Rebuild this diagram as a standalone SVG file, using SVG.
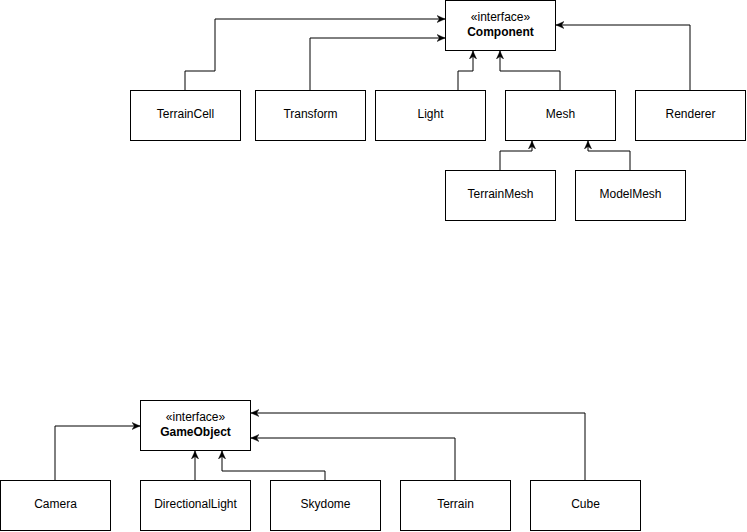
<svg xmlns="http://www.w3.org/2000/svg" width="747" height="532" viewBox="0 0 747 532">
<style>
.box{fill:#fff;stroke:#000;stroke-width:1}
.lbl{font-family:"Liberation Sans",Arial,sans-serif;font-size:12px;fill:#000;text-anchor:middle}
.b{font-weight:bold}
.edge{fill:none;stroke:#000;stroke-width:1;marker-end:url(#arr)}
</style>
<defs>
<marker id="arr" viewBox="0 0 10 10" refX="10" refY="5" markerWidth="8" markerHeight="8" markerUnits="userSpaceOnUse" orient="auto">
<path d="M0,0.5 L10,5 L0,9.5 L3,5 Z" fill="#000" stroke="#000" stroke-width="0.5"/>
</marker>
</defs>
<rect width="747" height="532" fill="#fff"/>
<g id="connectors">
<path class="edge" d="M185,90 V71 H215 V19 H445"/>
<path class="edge" d="M310,90 V38 H445"/>
<path class="edge" d="M458,90 V71 H473 V51"/>
<path class="edge" d="M560,90 V71 H500 V51"/>
<path class="edge" d="M690,90 V25 H556"/>
<path class="edge" d="M500,170 V151 H532 V141"/>
<path class="edge" d="M630,170 V151 H588 V141"/>
<path class="edge" d="M55,480 V426 H140"/>
<path class="edge" d="M195,480 V451"/>
<path class="edge" d="M325,480 V471 H222 V451"/>
<path class="edge" d="M455,480 V438 H251"/>
<path class="edge" d="M585,480 V413 H251"/>
</g>
<g id="Component">
<rect class="box" x="445.5" y="0.5" width="110" height="50"/>
<text class="lbl" x="500.5" y="21">«interface»</text>
<text class="lbl b" x="500.5" y="36">Component</text>
</g>
<g id="TerrainCell"><rect class="box" x="130.5" y="90.5" width="110" height="50"/><text class="lbl" x="185.5" y="118">TerrainCell</text></g>
<g id="Transform"><rect class="box" x="255.5" y="90.5" width="110" height="50"/><text class="lbl" x="310.5" y="118">Transform</text></g>
<g id="Light"><rect class="box" x="375.5" y="90.5" width="110" height="50"/><text class="lbl" x="430.5" y="118">Light</text></g>
<g id="Mesh"><rect class="box" x="505.5" y="90.5" width="110" height="50"/><text class="lbl" x="560.5" y="118">Mesh</text></g>
<g id="Renderer"><rect class="box" x="635.5" y="90.5" width="110" height="50"/><text class="lbl" x="690.5" y="118">Renderer</text></g>
<g id="TerrainMesh"><rect class="box" x="445.5" y="170.5" width="110" height="50"/><text class="lbl" x="500.5" y="198">TerrainMesh</text></g>
<g id="ModelMesh"><rect class="box" x="575.5" y="170.5" width="110" height="50"/><text class="lbl" x="630.5" y="198">ModelMesh</text></g>
<g id="GameObject">
<rect class="box" x="140.5" y="400.5" width="110" height="50"/>
<text class="lbl" x="195.5" y="421">«interface»</text>
<text class="lbl b" x="195.5" y="436">GameObject</text>
</g>
<g id="Camera"><rect class="box" x="0.5" y="480.5" width="110" height="50"/><text class="lbl" x="55.5" y="508">Camera</text></g>
<g id="DirectionalLight"><rect class="box" x="140.5" y="480.5" width="110" height="50"/><text class="lbl" x="195.5" y="508">DirectionalLight</text></g>
<g id="Skydome"><rect class="box" x="270.5" y="480.5" width="110" height="50"/><text class="lbl" x="325.5" y="508">Skydome</text></g>
<g id="Terrain"><rect class="box" x="400.5" y="480.5" width="110" height="50"/><text class="lbl" x="455.5" y="508">Terrain</text></g>
<g id="Cube"><rect class="box" x="530.5" y="480.5" width="110" height="50"/><text class="lbl" x="585.5" y="508">Cube</text></g>
</svg>
